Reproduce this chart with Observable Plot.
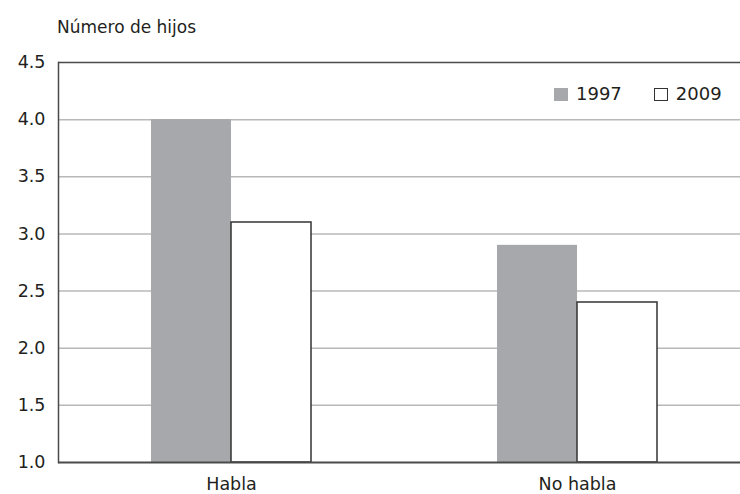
<!DOCTYPE html>
<html>
<head>
<meta charset="utf-8">
<script src="https://cdn.jsdelivr.net/npm/d3@7"></script>
<script src="https://cdn.jsdelivr.net/npm/@observablehq/plot@0.6"></script>
<style>
  body { margin: 0; background: white; font-family: "DejaVu Sans", sans-serif; color: #231f20; }
  #wrap { position: relative; width: 740px; height: 494px; overflow: hidden; }
  #title { height: 40px; box-sizing: border-box; padding-top: 17px; padding-left: 57px; font-size: 17px; line-height: 20px; }
  #legend { position: absolute; top: 84px; left: 554px; font-size: 18px; line-height: 20px; display: flex; align-items: center; }
  .sw { display: inline-block; width: 14px; height: 13px; box-sizing: border-box; margin-right: 8px; }
  .item { display: flex; align-items: center; margin-right: 32px; }
</style>
</head>
<body>
<div id="wrap">
  <div id="title">Número de hijos</div>
  <div id="chart"></div>
  <div id="legend"></div>
</div>
<script>
const categories = ["Habla", "No habla"];
const years = ["1997", "2009"];
const values1997 = [4.0, 2.9];
const values2009 = [3.1, 2.4];
const yTicks = [1.0, 1.5, 2.0, 2.5, 3.0, 3.5, 4.0, 4.5];

const gray = "#a7a8ab";
const dark = "#4a4a4a";
const grid = "#b8b8b8";

const data = categories.flatMap((c, i) => [
  {cat: c, year: years[0], v: values1997[i]},
  {cat: c, year: years[1], v: values2009[i]}
]);
const yMin = yTicks[0];
const yMax = yTicks[yTicks.length - 1];

const chart = Plot.plot({
  width: 740,
  height: 454,
  marginTop: 22,
  marginBottom: 32,
  marginLeft: 57,
  marginRight: -10,
  style: {fontSize: "17.5px", fontFamily: "'DejaVu Sans', sans-serif", color: "#231f20", background: "white"},
  fx: {domain: categories, padding: 0, label: null, axis: "bottom", tickSize: 0, tickPadding: 15},
  x: {domain: years, paddingInner: 0, paddingOuter: 1.152, axis: null},
  y: {domain: [yMin, yMax], ticks: yTicks, tickFormat: d3.format(".1f"), tickSize: 0, tickPadding: 13, label: null},
  marks: [
    Plot.ruleY(yTicks.slice(1, -1), {stroke: grid, strokeWidth: 1.5}),
    Plot.barY(data.filter(d => d.year === years[0]), {fx: "cat", x: "year", y1: yMin, y2: "v", fill: gray}),
    Plot.barY(data.filter(d => d.year === years[1]), {fx: "cat", x: "year", y1: yMin, y2: "v", fill: "white", stroke: "#333", strokeWidth: 1.5}),
    Plot.ruleY([yMax], {stroke: dark, strokeWidth: 1.5}),
    Plot.ruleY([yMin], {stroke: dark, strokeWidth: 2}),
    Plot.frame({anchor: "left", facet: "super", stroke: dark, strokeWidth: 1.5})
  ]
});
document.getElementById("chart").appendChild(chart);

const legend = document.getElementById("legend");
years.forEach((y, i) => {
  const item = document.createElement("span");
  item.className = "item";
  const sw = document.createElement("span");
  sw.className = "sw";
  if (i === 0) { sw.style.background = gray; }
  else { sw.style.background = "white"; sw.style.border = "1px solid #333"; }
  item.appendChild(sw);
  item.appendChild(document.createTextNode(y));
  legend.appendChild(item);
});
</script>
</body>
</html>
